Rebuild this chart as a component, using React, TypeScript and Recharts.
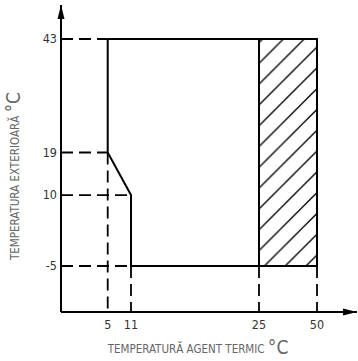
import { ComposedChart, Line, XAxis, YAxis, ReferenceLine, ReferenceArea, ReferenceDot } from 'recharts';

const FONT = "'Liberation Sans Narrow', 'DejaVu Sans Condensed', 'Liberation Sans', sans-serif";

// chart values
const xTicks = [5, 11, 25, 50];
const yTicks = [-5, 10, 19, 43];
const outlineX = [5, 5, 11, 11, 50, 50, 5];
const outlineY = [43, 19, 10, -5, -5, 43, 43];
const hatchX = [25, 50];
const hatchY = [-5, 43];
// dashed guides: horizontal ones run from the y axis to these x values
const hGuideY = [43, 19, 10, -5];
const hGuideToX = [5, 5, 11, 11];
// vertical ones run from the x axis up to these y values
const vGuideX = [5, 11, 25, 50];
const vGuideToY = [19, -5, -5, -5];

const X_DOMAIN: [number, number] = [0, 60];
const Y_DOMAIN: [number, number] = [-14.73, 50.19];

// the x axis of the drawing is schematic (not to scale): piecewise linear scale
const X_STOPS = [0, 5, 11, 25, 50, 60];
const X_FRACS = [0, 0.1578, 0.2365, 0.6689, 0.8649, 1];

function makeStepScale(stops: number[], fracs: number[]): any {
  let dom = [stops[0], stops[stops.length - 1]];
  let rng = [0, 1];
  const scale: any = (v: number) => {
    let i = 1;
    while (i < stops.length - 1 && v > stops[i]) i++;
    const t = (v - stops[i - 1]) / (stops[i] - stops[i - 1]);
    const f = fracs[i - 1] + t * (fracs[i] - fracs[i - 1]);
    return rng[0] + f * (rng[1] - rng[0]);
  };
  scale.domain = (d?: number[]) => {
    if (!d) return dom.slice();
    dom = d.slice();
    return scale;
  };
  scale.range = (r?: number[]) => {
    if (!r) return rng.slice();
    rng = r.slice();
    return scale;
  };
  scale.copy = () => makeStepScale(stops, fracs).domain(dom).range(rng);
  scale.ticks = () => stops.slice();
  return scale;
}

const xScale = makeStepScale(X_STOPS, X_FRACS);

const outline = outlineX.map((x, i) => ({ x, y: outlineY[i] }));

const XTitle = ({ viewBox }: any) => {
  if (!viewBox) return null;
  return (
    <text x={198} y={353} textAnchor="middle" fill="#666" fontFamily={FONT} fontSize={11.5}>
      TEMPERATURĂ AGENT TERMIC <tspan fontSize={19} dy={1}>°C</tspan>
    </text>
  );
};

const YTitle = ({ viewBox }: any) => {
  if (!viewBox) return null;
  return (
    <text
      x={0}
      y={0}
      transform="translate(19,176) rotate(-90)"
      textAnchor="middle"
      fill="#666"
      fontFamily={FONT}
      fontSize={11.5}
    >
      TEMPERATURA EXTERIOARĂ <tspan fontSize={19} dy={1}>°C</tspan>
    </text>
  );
};

const XArrow = ({ cx, cy }: any) => (
  <polygon points={`${cx},${cy} ${cx - 14},${cy - 3.5} ${cx - 14},${cy + 3.5}`} fill="#000" />
);

const YArrow = ({ cx, cy }: any) => (
  <polygon points={`${cx},${cy} ${cx - 3.5},${cy + 14} ${cx + 3.5},${cy + 14}`} fill="#000" />
);

export default function App() {
  return (
    <div style={{ position: 'absolute', left: 0, top: 0 }}>
      <svg width={0} height={0} style={{ position: 'absolute' }}>
        <defs>
          <pattern id="hatch" patternUnits="userSpaceOnUse" width={20.8} height={20.8}>
            <path d="M-1,11.4 L11.4,-1 M9.4,21.8 L21.8,9.4" stroke="#000" strokeWidth={1.3} />
          </pattern>
        </defs>
      </svg>
      <ComposedChart width={358} height={361} margin={{ top: 5, right: 1, bottom: 0, left: 0 }}>
        <XAxis
          type="number"
          dataKey="x"
          scale={xScale}
          domain={X_DOMAIN}
          ticks={xTicks}
          allowDataOverflow
          height={49}
          axisLine={{ stroke: '#000', strokeWidth: 2 }}
          tickLine={false}
          tick={{ fill: '#333', fontSize: 12.5, fontFamily: FONT }}
          label={<XTitle />}
        />
        <YAxis
          type="number"
          domain={Y_DOMAIN}
          ticks={yTicks}
          allowDataOverflow
          width={61}
          axisLine={{ stroke: '#000', strokeWidth: 2 }}
          tickLine={false}
          tickSize={0}
          tickMargin={4}
          tick={{ fill: '#333', fontSize: 12.5, fontFamily: FONT }}
          label={<YTitle />}
        />
        <ReferenceArea
          x1={hatchX[0]}
          x2={hatchX[1]}
          y1={hatchY[0]}
          y2={hatchY[1]}
          fill="url(#hatch)"
          fillOpacity={1}
          stroke="none"
          ifOverflow="visible"
        />
        {hGuideY.map((y, i) => (
          <ReferenceLine
            key={`h${i}`}
            segment={[{ x: X_DOMAIN[0], y }, { x: hGuideToX[i], y }]}
            stroke="#000"
            strokeWidth={1.8}
            strokeDasharray="12 6"
            ifOverflow="visible"
          />
        ))}
        {vGuideX.map((x, i) => (
          <ReferenceLine
            key={`v${i}`}
            segment={[{ x, y: vGuideToY[i] }, { x, y: Y_DOMAIN[0] }]}
            stroke="#000"
            strokeWidth={1.8}
            strokeDasharray="12 6"
            ifOverflow="visible"
          />
        ))}
        <ReferenceLine
          segment={[{ x: hatchX[0], y: hatchY[0] }, { x: hatchX[0], y: hatchY[1] }]}
          stroke="#000"
          strokeWidth={2}
          ifOverflow="visible"
        />
        <Line
          data={outline}
          dataKey="y"
          type="linear"
          stroke="#000"
          strokeWidth={2}
          dot={false}
          activeDot={false}
          isAnimationActive={false}
        />
        <ReferenceDot x={X_DOMAIN[1]} y={Y_DOMAIN[0]} ifOverflow="visible" shape={<XArrow />} />
        <ReferenceDot x={X_DOMAIN[0]} y={Y_DOMAIN[1]} ifOverflow="visible" shape={<YArrow />} />
      </ComposedChart>
    </div>
  );
}
